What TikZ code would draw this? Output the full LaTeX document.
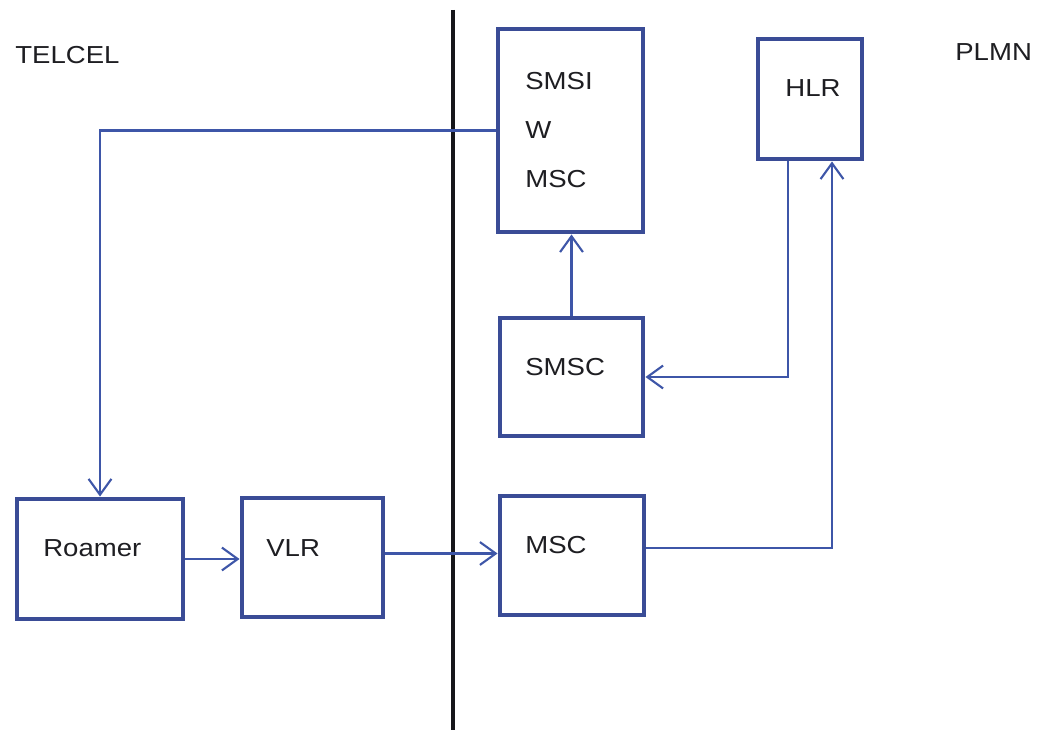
\documentclass[tikz,border=0pt]{standalone}
\usepackage{fontspec}
\setmainfont{Liberation Sans}[FakeStretch=1.12]
\usetikzlibrary{positioning, arrows.meta, calc}
\definecolor{boxblue}{RGB}{58, 76, 150}
\definecolor{linkblue}{RGB}{62, 86, 168}
\definecolor{labeltext}{RGB}{30, 30, 34}
\definecolor{divider}{RGB}{22, 22, 26}

\begin{document}
\begin{tikzpicture}[
    box/.style={draw=boxblue, line width=2.8pt, fill=white, inner sep=0pt},
    lbl/.style={anchor=west, inner sep=0pt, font=\fontsize{14}{28}\selectfont\color{labeltext}},
    link/.style={draw=linkblue, line width=1.2pt, -{Straight Barb[length=9pt,width=13pt]}}
]
\useasboundingbox (0,0) rectangle (20.78,14.6);

% Divider between the two networks
\coordinate (divtop) at (9.06,14.4);
\coordinate (divbot) at (9.06,0);
\draw[divider, line width=2.6pt] (divtop) -- (divbot);

% Network names
\node[lbl] (telcel) at (0.30,13.50) {TELCEL};
\node[lbl] (plmn) at (19.10,13.56) {PLMN};

% Boxes
\node[box, minimum width=2.90cm, minimum height=4.06cm] (smsi) at (11.41,11.99) {};
\node[box, minimum width=2.08cm, minimum height=2.40cm] (hlr) at (16.20,12.62) {};
\node[box, minimum width=2.86cm, minimum height=2.36cm] (smsc) at (11.43,7.06) {};
\node[box, minimum width=2.88cm, minimum height=2.38cm] (msc) at (11.44,3.49) {};
\node[box, minimum width=3.32cm, minimum height=2.40cm] (roamer) at (2.00,3.42) {};
\node[box, minimum width=2.82cm, minimum height=2.38cm] (vlr) at (6.25,3.45) {};

% Box texts
\node[lbl, align=left] (smsitxt) at (10.50,12.00) {SMSI\\W\\MSC};
\node[lbl] (hlrtxt) at (15.70,12.84) {HLR};
\node[lbl] (smsctxt) at (10.50,7.26) {SMSC};
\node[lbl] (msctxt) at (10.50,3.70) {MSC};
\node[lbl] (roamertxt) at (0.86,3.64) {Roamer};
\node[lbl] (vlrtxt) at (5.32,3.64) {VLR};

% Links
\draw[link] (smsi.west) -| (roamer.north);
\draw[link] (roamer.east) -- (roamer.east -| vlr.west);
\draw[link] ([yshift=0.08cm]vlr.east) -- ([yshift=0.08cm]vlr.east -| msc.west);
\draw[link] (smsc.north) -- (smsc.north |- smsi.south);
\draw[link] ([xshift=-0.44cm]hlr.south) |- (smsc.east);
\draw[link] ([yshift=0.15cm]msc.east) -| ([xshift=0.44cm]hlr.south);
\end{tikzpicture}
\end{document}
